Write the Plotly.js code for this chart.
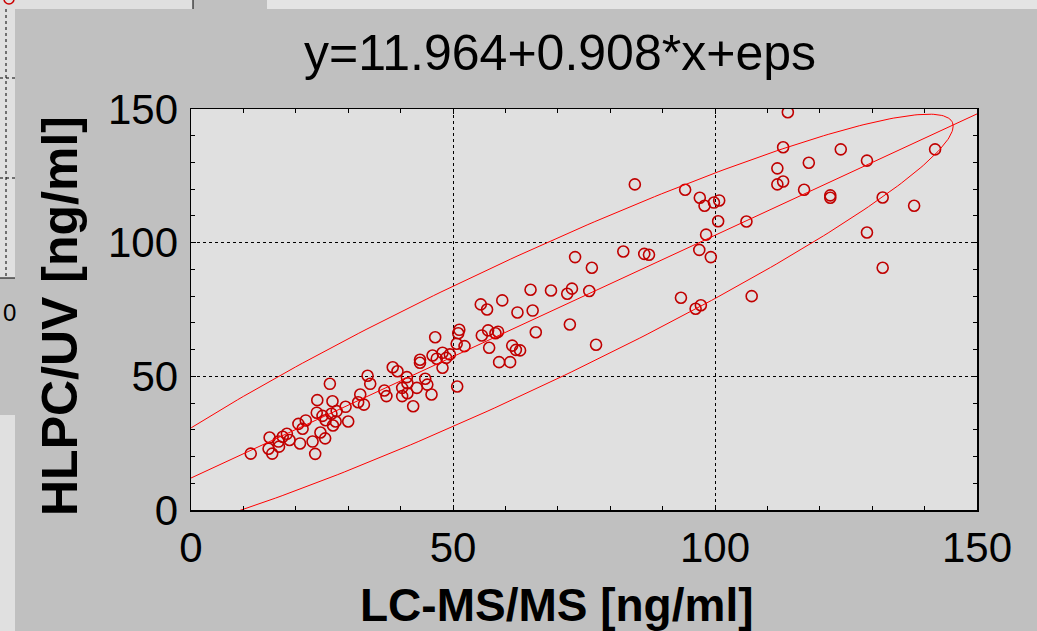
<!DOCTYPE html>
<html>
<head>
<meta charset="utf-8">
<script src="https://cdn.plot.ly/plotly-3.0.1.min.js"></script>
<style>
html,body{margin:0;padding:0;background:#c0c0c0;overflow:hidden}
#chart{width:1037px;height:631px}
</style>
</head>
<body>
<div id="chart"></div>
<script>
// ---- data ----
const lcms = [11.4,15.0,14.8,15.5,16.7,16.8,17.5,18.3,18.8,20.8,20.5,21.3,21.9,23.2,23.7,24.1,24.0,24.7,25.1,25.6,
  25.7,26.5,27.0,26.8,27.1,27.6,27.8,29.5,30.0,32.3,33.0,33.7,34.2,31.9,36.9,37.3,38.5,39.4,40.3,40.3,
  41.2,41.3,42.4,43.1,43.7,43.7,44.7,45.1,45.9,46.6,46.1,46.9,48.0,48.0,48.7,49.4,50.7,51.2,51.0,50.8,
  52.2,55.3,56.5,55.5,56.7,56.9,59.4,58.1,58.6,58.8,60.9,61.3,62.0,62.8,62.3,64.8,65.2,65.8,68.7,71.8,
  72.7,72.3,73.3,76.0,76.5,77.3,82.5,84.7,86.5,87.4,93.5,94.3,96.3,97.3,97.0,97.1,98.0,98.3,99.2,99.8,
  100.8,100.6,106.0,107.0,113.9,113.0,111.9,113.0,111.9,117.9,117.0,124.0,122.0,122.0,129.0,129.0,132.0,132.0,138.0,142.0,
  41.3];
const hplc = [21.1,27.1,22.9,21.1,25.6,23.7,27.4,28.5,26.2,24.9,32.2,30.4,33.5,25.6,21.0,41.1,36.4,29.0,35.2,26.8,
  33.6,47.2,40.7,36.0,31.6,33.1,37.0,38.6,33.1,43.2,39.4,50.2,47.2,40.3,44.7,42.6,53.4,51.9,45.7,42.6,
  49.7,43.7,38.8,45.7,56.2,55.1,49.1,46.9,43.2,64.6,57.8,56.6,58.8,53.2,56.9,58.2,62.2,67.4,66.1,46.2,
  61.3,76.9,75.0,65.3,67.2,60.7,78.4,66.1,66.7,55.3,55.3,61.5,59.9,59.7,73.9,82.4,74.6,66.5,82.1,80.9,
  82.8,69.4,94.6,81.9,90.6,61.8,96.7,121.8,95.8,95.5,79.4,119.8,75.3,76.6,97.3,116.8,113.8,103.0,94.6,115.0,
  115.8,108.0,107.9,80.0,148.8,135.7,127.8,122.9,121.8,129.9,119.8,134.9,117.7,116.8,130.7,103.8,116.9,90.6,113.8,134.9,
  47.4];
const intercept = 11.964;
const slope = 0.908;
const ellipseCoverage = 0.95;
const tickVals = [0, 50, 100, 150];
const tickText = ['0', '50', '100', '150'];
const titleText = 'y=11.964+0.908*x+eps';
const xTitle = 'LC-MS/MS [ng/ml]';
const yTitle = 'HLPC/UV [ng/ml]';

// ---- derived: regression line and 95% ellipse computed from the data ----
const xr = [tickVals[0], tickVals[tickVals.length - 1]];
const lineX = [], lineY = [];
for (let i = 0; i <= 100; i++) {
  const x = xr[0] + (xr[1] - xr[0]) * i / 100;
  lineX.push(x); lineY.push(intercept + slope * x);
}
const n = lcms.length;
const mx = lcms.reduce((a, b) => a + b, 0) / n;
const my = hplc.reduce((a, b) => a + b, 0) / n;
let sxx = 0, syy = 0, sxy = 0;
for (let i = 0; i < n; i++) {
  sxx += (lcms[i] - mx) ** 2; syy += (hplc[i] - my) ** 2; sxy += (lcms[i] - mx) * (hplc[i] - my);
}
sxx /= (n - 1); syy /= (n - 1); sxy /= (n - 1);
const k = Math.sqrt(-2 * Math.log(1 - ellipseCoverage));
const a = Math.sqrt(sxx), b = sxy / a, c = Math.sqrt(syy - b * b);
const ex = [], ey = [];
for (let i = 0; i <= 360; i++) {
  const t = i * Math.PI / 180;
  ex.push(mx + k * a * Math.cos(t));
  ey.push(my + k * (b * Math.cos(t) + c * Math.sin(t)));
}

// ---- page layout helpers (pixel -> paper) ----
const W = 1037, H = 631, ML = 191, MR = 60, MT = 109, MB = 121;
const PW = W - ML - MR, PH = H - MT - MB;
const px = v => (v - ML) / PW;
const py = v => (H - MB - v) / PH;
const rect = (x0, y0, x1, y1, fill, line) => ({type: 'rect', xref: 'paper', yref: 'paper',
  x0: px(x0), x1: px(x1), y0: py(y0), y1: py(y1), fillcolor: fill, line: line || {width: 0}, layer: 'above'});
const seg = (x0, y0, x1, y1, dash) => ({type: 'line', xref: 'paper', yref: 'paper',
  x0: px(x0), x1: px(x1), y0: py(y0), y1: py(y1), line: {color: '#000', width: 1, dash: dash || 'solid'}, layer: 'above'});

const shapes = [
  rect(0, 0, 193, 9, '#e0e0e0'),
  rect(267, 0, 1037, 9, '#e4e4e4'),
  seg(193, 0, 193, 9),
  rect(0, 9, 15, 278, '#e0e0e0'),
  seg(6, 9, 6, 278, 'dot'),
  seg(0, 78, 15, 78, 'dot'),
  seg(0, 178, 15, 178, 'dot'),
  seg(0, 278, 15, 278),
  rect(0, 415, 15, 631, '#e0e0e0'),
  {type: 'circle', xref: 'paper', yref: 'paper', x0: px(4), x1: px(14), y0: py(-6), y1: py(4),
   line: {color: '#cc0000', width: 1.5}, layer: 'above'}
];

const font = 'Liberation Sans, Arial, Helvetica, sans-serif';
const axisCommon = {
  range: xr, tickvals: tickVals, ticktext: tickText, autorange: false,
  showline: true, linecolor: '#000', linewidth: 1.5, mirror: 'allticks',
  ticks: 'inside', ticklen: 5, tickcolor: '#000', tickwidth: 1,
  minor: {dtick: 10, ticks: 'inside', ticklen: 4, tickcolor: '#000', showgrid: false},
  showgrid: true, gridcolor: '#000', griddash: 'dot', gridwidth: 1,
  zeroline: false, tickfont: {family: font, size: 42, color: '#000'}
};

const traces = [
  {x: lcms, y: hplc, type: 'scatter', mode: 'markers', name: 'data',
   marker: {symbol: 'circle-open', size: 11, color: '#c00000', line: {width: 1.6, color: '#c00000'}}, cliponaxis: true},
  {x: lineX, y: lineY, type: 'scatter', mode: 'lines', name: 'fit', line: {color: '#ff0000', width: 1}},
  {x: ex, y: ey, type: 'scatter', mode: 'lines', name: 'ellipse', line: {color: '#ff0000', width: 1}}
];

const layout = {
  width: W, height: H,
  margin: {l: ML, r: MR, t: MT, b: MB, pad: 0},
  paper_bgcolor: '#c0c0c0', plot_bgcolor: '#e0e0e0',
  showlegend: false,
  font: {family: font, color: '#000'},
  title: {text: titleText, font: {family: font, size: 50, color: '#000'},
          x: 560 / W, xref: 'container', xanchor: 'center', y: 1 - 52 / H, yref: 'container', yanchor: 'middle'},
  xaxis: Object.assign({}, axisCommon, {ticklabelstandoff: 0}),
  yaxis: Object.assign({}, axisCommon, {ticklabelstandoff: 3}),
  shapes: shapes,
  annotations: [
    {text: xTitle, xref: 'paper', yref: 'paper', x: px(557), y: py(605), xanchor: 'center', yanchor: 'middle',
     showarrow: false, font: {family: font, size: 46, color: '#000', weight: 'bold'}},
    {text: yTitle, xref: 'paper', yref: 'paper', x: px(60), y: py(316), xanchor: 'center', yanchor: 'middle',
     textangle: -90, showarrow: false, font: {family: font, size: 50, color: '#000', weight: 'bold'}},
    {text: '0', xref: 'paper', yref: 'paper', x: px(1), y: py(312), xanchor: 'left', yanchor: 'middle',
     showarrow: false, font: {family: font, size: 24, color: '#000'}}
  ]
};

Plotly.newPlot('chart', traces, layout, {staticPlot: true, displayModeBar: false});
</script>
</body>
</html>
